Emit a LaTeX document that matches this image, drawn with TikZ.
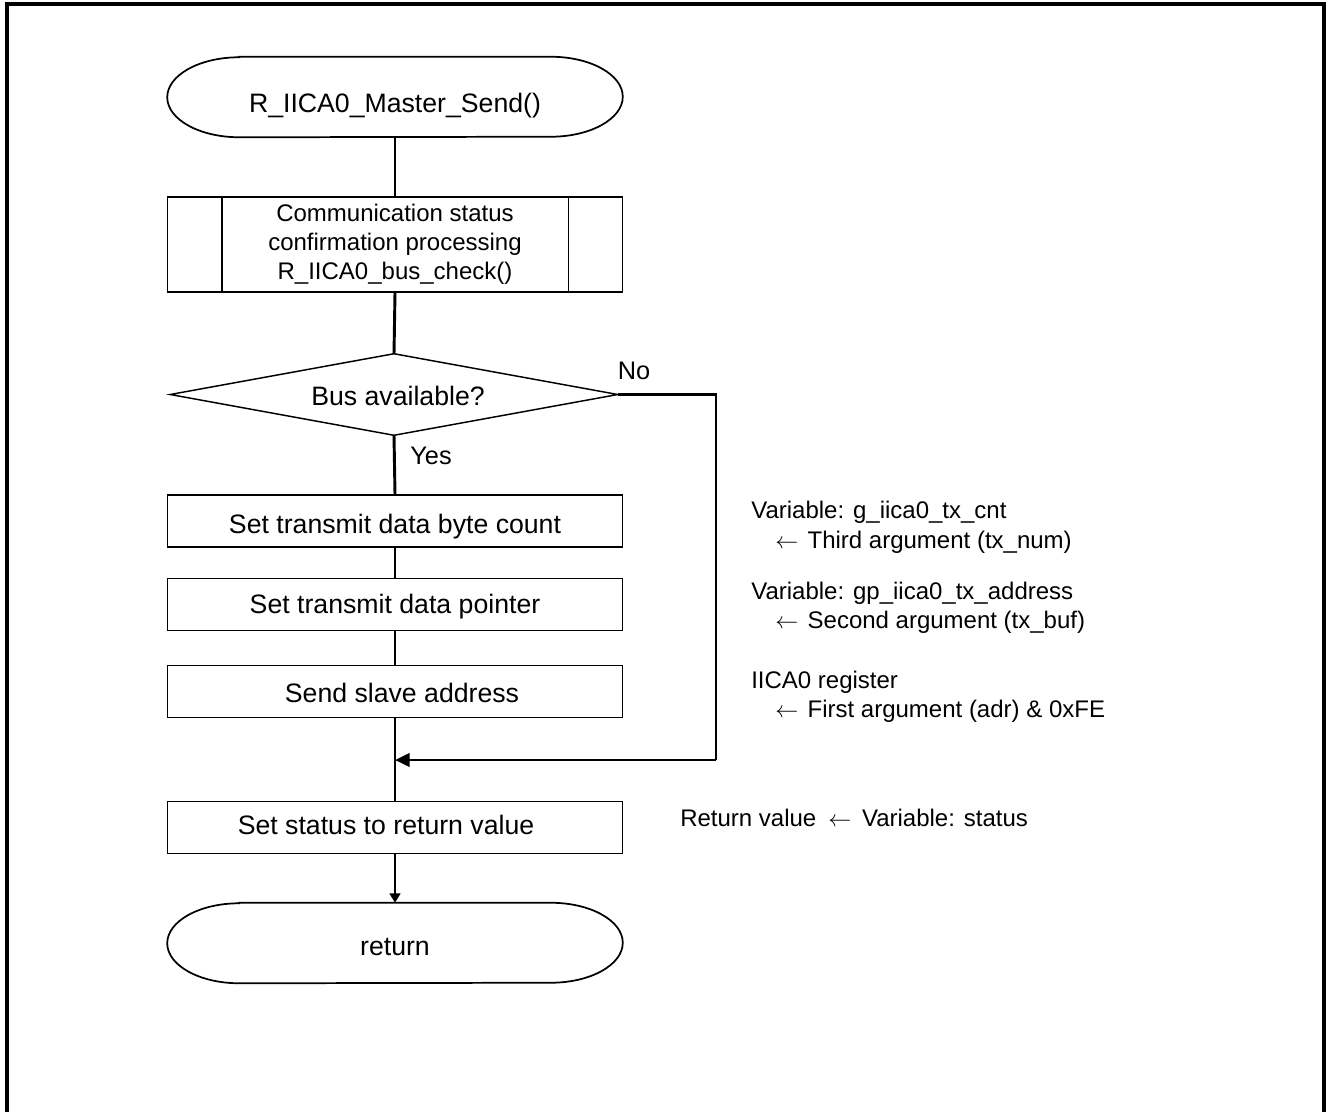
\documentclass[tikz,border=0pt]{standalone}
\usepackage{fontspec}
\setmainfont{Liberation Sans}
\usetikzlibrary{arrows.meta,calc}
\newcommand\termshape[1]{%
  \draw[line width=1.3pt] ($(#1.north west)+(72,0)$) -- ($(#1.north east)+(-72,0)$)
    arc[start angle=90,end angle=-90,x radius=54pt,y radius=30pt]
    -- ($(#1.south west)+(72,0)$)
    arc[start angle=270,end angle=90,x radius=54pt,y radius=30pt] -- cycle;}
\newcommand\larr{$\leftarrow$}
\begin{document}
\begin{tikzpicture}[x=0.75pt,y=0.75pt,
  txt/.style={font=\fontsize{18}{21.75}\selectfont, inner sep=0pt, text height=13pt, text depth=4pt},
  lbl/.style={font=\fontsize{19}{22}\selectfont, inner sep=0pt, text height=14pt, text depth=4pt},
  mtxt/.style={font=\fontsize{18}{21.75}\selectfont, inner sep=0pt, align=center},
  btxt/.style={font=\fontsize{20}{24}\selectfont, inner sep=0pt, text depth=0pt},
  term/.style={btxt, minimum width={455*0.75pt}, minimum height={80*0.75pt}},
  procbox/.style={btxt, draw, line width=0.9pt, minimum width={455*0.75pt}, minimum height={52*0.75pt}},
  subbox/.style={mtxt, draw, line width=1.1pt, minimum width={455*0.75pt}, minimum height={95*0.75pt}},
  decbox/.style={btxt, text height=15.8pt, minimum width={447*0.75pt}, minimum height={81*0.75pt}},
  note/.style={txt, anchor=west},
  conn/.style={line width=2.2pt},
  tip/.style={-{Triangle[length=11pt,width=10pt]}},
  smalltip/.style={-{Triangle[length=7pt,width=8pt]}}
]
\useasboundingbox (0,0) rectangle (1328,-1111);
\fill[white] (0,0) rectangle (1328,-1111);
% frame
\draw[line width=2.3pt] (7,-1130) -- (7,-4) -- (1324,-4) -- (1324,-1130);

% nodes
\node[term, text height=22.5pt] (start) at (395,-97) {R\_IICA0\_Master\_Send()};
\termshape{start}
\node[subbox] (sub) at (395,-244.5) {Communication status\\confirmation processing\\R\_IICA0\_bus\_check()};
\draw[line width=1.1pt] ($(sub.north west)+(55,0)$) -- ($(sub.south west)+(55,0)$);
\draw[line width=1.1pt] ($(sub.north east)+(-55,0)$) -- ($(sub.south east)+(-55,0)$);
\node[decbox] (dec) at (394,-394.5) {\hspace*{6pt}Bus available?};
\draw[line width=1.1pt] (dec.west) -- (dec.north) -- (dec.east) -- (dec.south) -- cycle;
\node[procbox, text height=19pt] (b1) at (395,-521) {Set transmit data byte count};
\node[procbox, text height=14.2pt] (b2) at (395,-604.5) {Set transmit data pointer};
\node[procbox, text height=15.8pt] (b3) at (395,-691.5) {\hspace*{10.5pt}Send slave address};
\node[procbox, text height=11.2pt] (b4) at (395,-827.5) {Set status to return value\hspace*{13.5pt}};
\node[term, text height=18pt] (ret) at (395,-943) {return};
\termshape{ret}

\node[lbl] (no) at (634,-373) {No};
\node[lbl] (yes) at (431,-458) {Yes};

% connectors
\draw[conn] (start.south) -- (sub.north);
\draw[conn] (sub.south) -- (dec.north);
\draw[conn] (dec.south) -- (b1.north);
\draw[conn] (b1.south) -- (b2.north);
\draw[conn] (b2.south) -- (b3.north);
\draw[conn] (b3.south) -- (b4.north);
\draw[conn,smalltip] (b4.south) -- (ret.north);
\coordinate (merge) at (395,-760);
\coordinate (nr) at (716,-760);
\draw[conn] (dec.east) -| (nr);
\draw[conn,tip] (nr) -- (merge);

% annotations
\node[note] (a1) at (751,-512) {Variable: g\_iica0\_tx\_cnt};
\node[note] (a2) at (775,-542) {\larr\hspace{7pt}Third argument (tx\_num)};
\node[note] (a3) at (751,-593) {Variable: gp\_iica0\_tx\_address};
\node[note] (a4) at (775,-622) {\larr\hspace{7pt}Second argument (tx\_buf)};
\node[note] (a5) at (751,-682) {IICA0 register};
\node[note] (a6) at (775,-711) {\larr\hspace{7pt}First argument (adr) \& 0xFE};
\node[note] (a7) at (680,-820) {Return value\hspace{9pt}\larr\hspace{8pt}Variable: status};
\end{tikzpicture}
\end{document}
